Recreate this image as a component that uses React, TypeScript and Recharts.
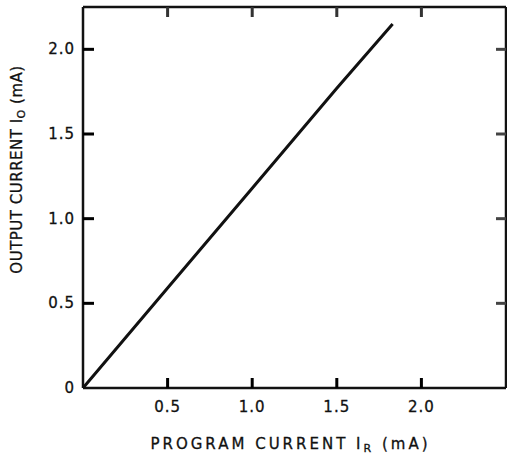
import { Line, LineChart, XAxis, YAxis } from 'recharts';

const programCurrent = [0, 0.5, 1.0, 1.5, 1.83];
const outputCurrent = [0, 0.59, 1.18, 1.77, 2.15];
const xTicks = [0.5, 1.0, 1.5, 2.0];
const yTicks = [0, 0.5, 1.0, 1.5, 2.0];

const rows = programCurrent.map((x, i) => ({ x, y: outputCurrent[i] }));

const INK = '#111';
const FONT = '"DejaVu Sans", sans-serif';
const fmt = (v: number) => (v === 0 ? '0' : v.toFixed(1));
const axisStroke = { stroke: INK, strokeWidth: 2.5 };
const textStyle = { fill: INK, stroke: INK, strokeWidth: 0.3, fontSize: 15, fontFamily: FONT };

// inward tick marks drawn as thin filled rects
function BottomTick(props: any) {
  const { x, y, payload } = props;
  return (
    <g>
      <rect x={x - 1.5} y={y - 10} width={3} height={10} fill="#000" />
      <text x={x} y={y + 24} textAnchor="middle" letterSpacing={1} {...textStyle}>
        {fmt(payload.value)}
      </text>
    </g>
  );
}

function TopTick(props: any) {
  const { x, y } = props;
  return <rect x={x - 1.5} y={y} width={3} height={10} fill="#333" />;
}

function LeftTick(props: any) {
  const { x, y, payload } = props;
  return (
    <g>
      {payload.value !== 0 && <rect x={x} y={y - 1.5} width={11} height={3} fill="black" />}
      <text x={x - 8} y={y + 5} textAnchor="end" letterSpacing={1} {...textStyle}>
        {fmt(payload.value)}
      </text>
    </g>
  );
}

function RightTick(props: any) {
  const { x, y } = props;
  return <path d={`M${x},${y}H${x - 10}`} stroke="#444" strokeWidth={3} fill="none" />;
}

function XTitle({ viewBox }: any) {
  const cx = viewBox.x + viewBox.width / 2 - 4;
  return (
    <text x={cx} y={viewBox.y + 61} textAnchor="middle" letterSpacing={3} {...textStyle}>
      PROGRAM CURRENT I
      <tspan fontSize={11} dy={3}>R</tspan>
      <tspan dy={-3}> (mA)</tspan>
    </text>
  );
}

function YTitle({ viewBox }: any) {
  const cy = viewBox.y + viewBox.height / 2 - 28;
  return (
    <text x={22} y={cy} transform={`rotate(-90 22 ${cy})`} textAnchor="middle" letterSpacing={0.5} {...textStyle}>
      OUTPUT CURRENT I
      <tspan fontSize={11} dy={3}>O</tspan>
      <tspan dy={-3}> (mA)</tspan>
    </text>
  );
}

export default function App() {
  return (
    <div style={{ position: 'absolute', left: 0, top: 0, background: '#fff' }}>
      <LineChart width={507} height={461} data={rows} margin={{ top: 6, right: 0, bottom: 0, left: 0 }}>
        <XAxis
          dataKey="x"
          type="number"
          domain={[0, 2.5]}
          ticks={xTicks}
          height={73}
          tickSize={0}
          tickMargin={0}
          tick={<BottomTick />}
          axisLine={axisStroke}
          label={<XTitle />}
        />
        <XAxis
          xAxisId="top"
          dataKey="x"
          orientation="top"
          type="number"
          domain={[0, 2.5]}
          allowDataOverflow
          ticks={xTicks}
          height={1}
          tickSize={0}
          tickMargin={0}
          tick={<TopTick />}
          axisLine={axisStroke}
        />
        <YAxis
          type="number"
          domain={[0, 2.25]}
          ticks={yTicks}
          width={83}
          tickSize={0}
          tickMargin={0}
          tick={<LeftTick />}
          axisLine={axisStroke}
          label={<YTitle />}
        />
        <YAxis
          yAxisId="right"
          orientation="right"
          type="number"
          domain={[0, 2.25]}
          allowDataOverflow
          ticks={xTicks}
          width={1}
          tickSize={0}
          tickMargin={0}
          tick={<RightTick />}
          axisLine={axisStroke}
        />
        <Line
          dataKey="y"
          type="linear"
          stroke={INK}
          strokeWidth={3}
          dot={false}
          isAnimationActive={false}
        />
      </LineChart>
    </div>
  );
}
